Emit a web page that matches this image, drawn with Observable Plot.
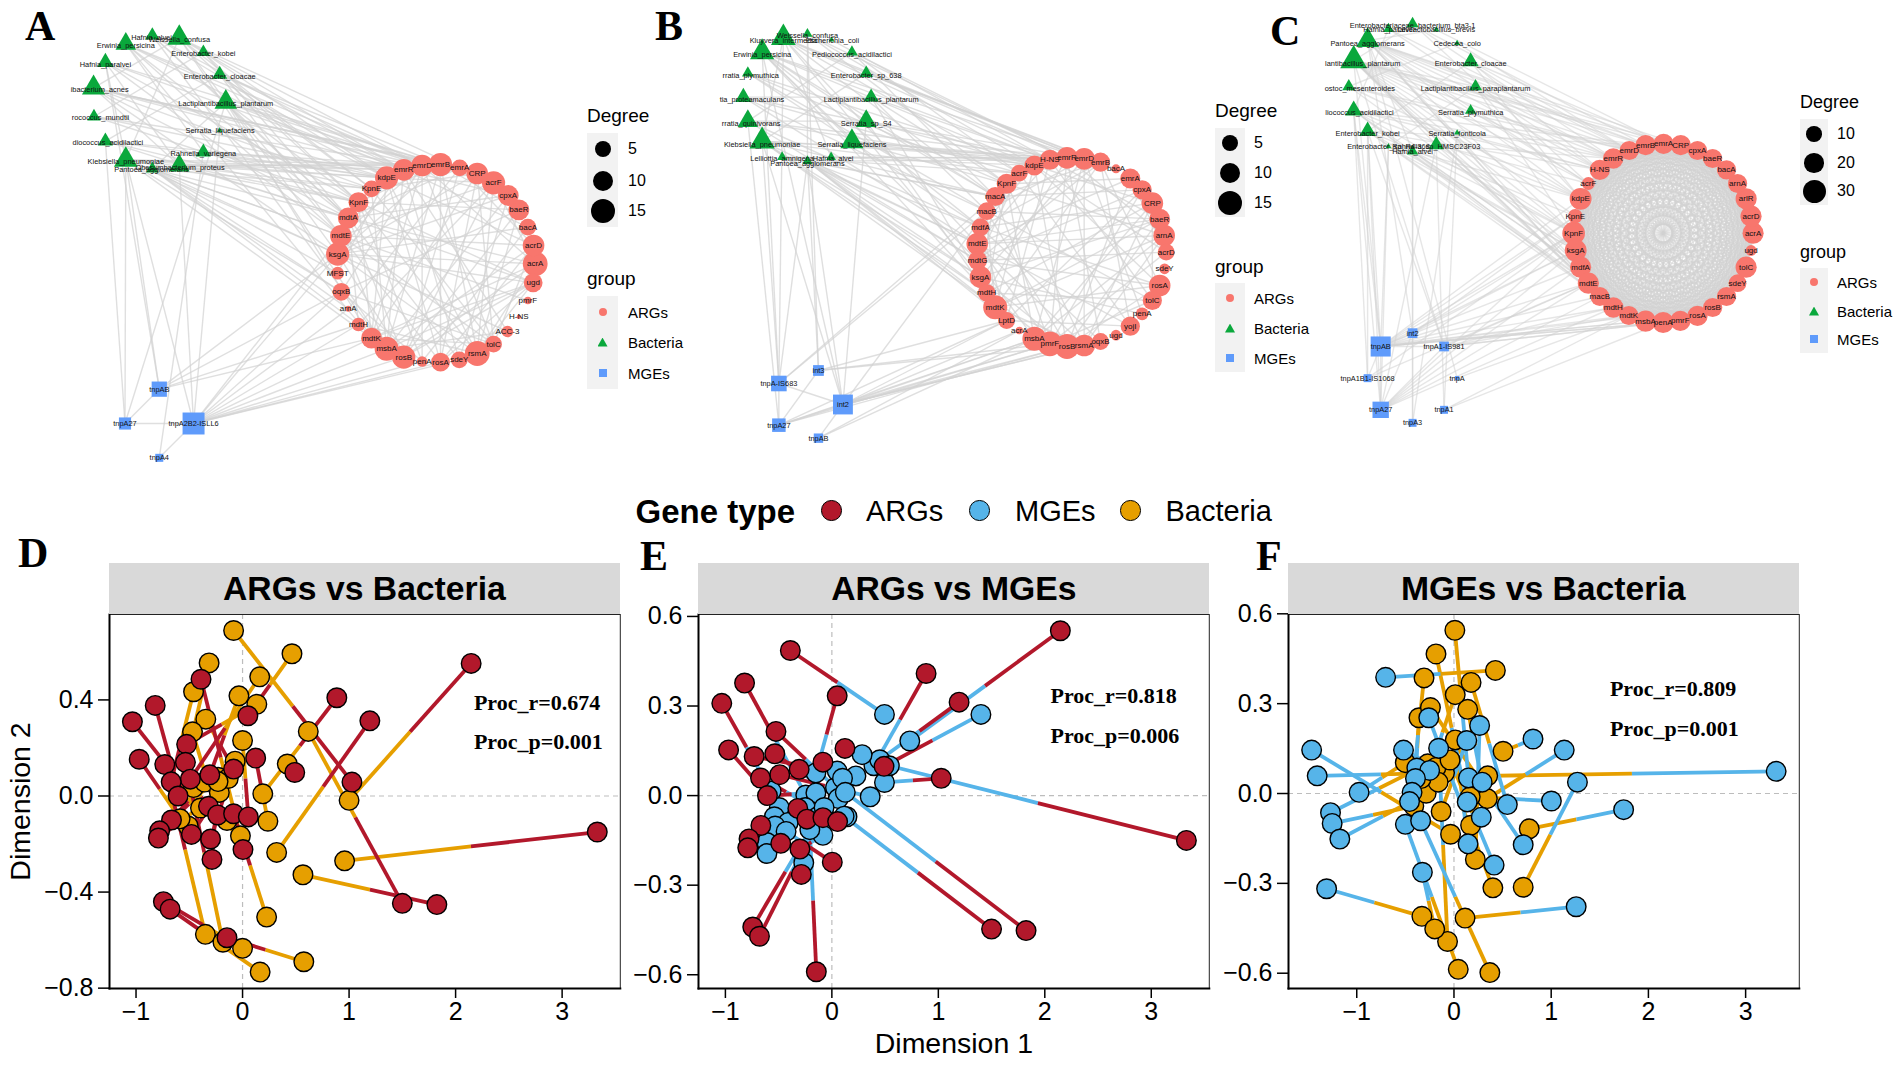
<!DOCTYPE html>
<html><head><meta charset="utf-8">
<script src="https://cdn.jsdelivr.net/npm/d3@7"></script>
<script src="https://cdn.jsdelivr.net/npm/@observablehq/plot@0.6"></script>
<style>
html,body{margin:0;padding:0;background:#fff}
#page{position:relative;width:1901px;height:1065px;overflow:hidden;font-family:"Liberation Sans",Arial,sans-serif;color:#000}
#page>*{position:absolute}
.letter{font-family:"Liberation Serif",serif;font-weight:bold;font-size:42px;line-height:1}
.strip{background:#d9d9d9;font-weight:bold;font-size:33.7px;display:flex;align-items:center;justify-content:center}
.t{white-space:nowrap;line-height:1;transform:translateY(-50%)}
svg{overflow:visible;background:transparent}
</style></head><body><div id="page"></div>
<script>
// ---------- Panels A-C: node rows [name, picture x, picture y, degree]; bacteria also carry label x, y
const ringA = [["acrA",1310,790,15],["acrD",1306,735,11],["bacA",1292,680,5],["baeR",1270,628,10],["cpxA",1244,585,10],["acrF",1208,547,13],["CRP",1168,519,11],["emrA",1125,502,5],["emrB",1078,492,13],["emrD",1033,495,11],["emrR",988,508,11],["kdpE",946,532,13],["KpnE",909,565,5],["KpnF",877,605,9],["mdtA",852,652,10],["mdtE",834,706,11],["ksgA",826,761,13],["MFST",826,818,3.7],["oqxB",835,874,6],["arnA",852,925,1.5],["mdtH",877,972,4],["mdtK",909,1013,10],["msbA",946,1045,14],["rosB",988,1070,13],["penA",1033,1083,3],["rosA",1078,1085,7.5],["sdeY",1124,1078,5],["rsmA",1168,1059,15],["tolC",1208,1031,5],["ACC-3",1242,993,3.3],["H-NS",1270,949,1],["pmrF",1292,900,2],["ugd",1305,847,7.5]];
const bactA = [["Hafnia_alvei",372,105,3,370,110],["Weissella_confusa",438,112,6,438,118],["Erwinia_persicina",307,130,4.5,307,136],["Enterobacter_kobei",497,155,2.8,497,160],["Hafnia_paralvei",257,185,3.5,257,191],["Enterobacter_cloacae",537,222,3.2,537,227],["ibacterium_acnes",228,262,5.5,243,268],["rococcus_mundtii",229,348,2.8,245,351],["Lactiplantibacillus_plantarum",552,305,5,552,310],["Serratia_liquefaciens",537,390,0.9,538,391],["diococcus_acidilactici",257,422,3.2,263,427],["Rahnella_variegena",497,455,3.2,497,458],["Klebsiella_pneumoniae",307,478,6,307,483],["Obesumbacterium_proteus",438,495,4.5,440,500],["Pantoea_agglomerans",372,505,2.6,370,508]];
const mgeA = [["tnpAB",389,1166,5.5],["tnpA27",305,1269,4],["tnpA2B2-ISLL6",473,1269,15],["tnpA4",389,1372,2.5]];
const ringLinksA = [[0,5,9,14,16,21,23,27],[1,7,11,15,22,25,28],[2,10,16,24],[3,8,13,18,23,27],[4,10,14,16,22,26],[5,11,15,20,23,27],[6,12,16,21,25,28],[7,14,19,23],[8,13,16,22,25,27],[9,15,18,21,24,28],[10,16,22,26,29],[11,17,21,25,27],[12,22,28],[13,21,24,27,32],[14,20,23,26,32],[15,22,25,28,31],[16,23,27,29,32],[18,24,28],[20,27],[21,28,32],[22,29,32],[23,32],[25,32],[27,32]];
const bactLinksA = [[0,10,11,14,22],[1,7,9,10,12,13,16,22],[2,9,10,11,14,15,21],[3,11,13,14],[4,8,10,13,15],[5,8,9,12,15],[6,6,7,8,9,10,12,14,16],[7,9,11,13],[8,8,9,10,13,14,15,21],[9,11],[10,10,11,13,14],[11,9,10,11,12],[12,8,10,11,12,13,15,16,18,21],[13,8,9,10,11,13,14],[14,12,14,15,16,17,18,19,20]];
const bactBactA = [[2,11],[1,12],[4,13],[6,13],[5,10],[3,7],[8,14],[0,8],[1,6],[4,12]];
const mgeRingA = [[0,16,18,20,21],[2,15,16,18,19,20,21,22,23,24,25,26]];
const mgeBactA = [[0,4,12],[1,10,12,8],[2,12,13,9],[3,11]];
const mgeMgeA = [[1,2],[2,3],[0,1]];

const ringB = [["arnA",1283,705,11],["acrD",1288,755,5],["sdeY",1284,805,3],["rosA",1272,855,11],["tolC",1254,900,8],["penA",1229,940,3.7],["yojI",1200,977,8],["ugd",1165,1004,3],["oqxB",1127,1023,5],["rsmA",1087,1035,11],["rosB",1045,1038,15],["pmrF",1003,1030,15],["msbA",965,1015,14],["acrA",928,990,2],["LptD",897,960,5],["mdtK",869,920,14],["mdtH",848,877,6],["ksgA",833,830,11],["mdtG",826,780,7.5],["mdtE",825,730,11],["mdfA",833,680,6],["macB",848,632,6],["macA",869,588,8],["KpnF",897,550,9],["acrF",928,518,5],["kdpE",965,495,9],["H-NS",1003,478,9],["emrR",1045,472,11],["emrD",1087,475,11],["emrB",1127,485,8],["bacA",1165,505,2.5],["emrA",1200,534,9],["cpxA",1229,568,8],["CRP",1254,608,11],["baeR",1272,656,10]];
const bactB = [["Kluyvera_intermedia",350,112,7,350,120],["Weissella_confusa",409,100,2,409,105],["Escherichia_coli",468,118,1,470,120],["Erwinia_persicina",298,155,6.5,298,162],["Pediococcus_acidilactici",518,155,2.4,518,162],["rratia_plymuthica",263,218,2.4,270,224],["Enterobacter_sp_638",553,218,2.8,553,224],["tia_proteamaculans",252,290,3.5,273,297],["Lactiplantibacillus_plantarum",565,290,3.2,565,297],["rratia_quinivorans",263,362,4.5,271,370],["Serratia_sp_S4",553,362,4.5,553,370],["Klebsiella_pneumoniae",298,422,7.5,298,432],["Serratia_liquefaciens",518,423,5.5,518,432],["Lelliottia_amnigena",347,470,2,347,474],["Hafnia_alvei",467,470,1.9,472,474],["Pantoea_agglomerans",409,482,2,409,488]];
const mgeB = [["tnpA-IS683",339,1149,6],["int3",436,1110,3.5],["int2",496,1212,12],["tnpA27",339,1274,4.5],["tnpAB",436,1313,3]];
const ringLinksB = [[0,9,12,15,19,23,27],[1,11,18,25,31],[3,10,15,18,20,25,29],[4,11,16,21,26,33],[5,17,28],[6,14,19,24,29],[8,20,27],[9,15,19,23,28,33],[10,17,21,25,31,34],[11,16,19,22,27,32],[12,18,23,28,33],[14,20,26,32],[15,21,25,29,34],[16,23,27,33],[17,22,28,34],[18,24,29,32],[19,26,31,34],[20,25,29,33],[21,28,34],[22,29,32],[23,31],[25,33],[26,34]];
const bactLinksB = [[0,26,27,28,24,22,19,17],[1,25,27,23],[2,26],[3,25,26,28,22,20,18,16],[4,27,24,22],[5,25,23,21],[6,29,30,28],[7,24,26,21,19],[8,26,23,21,17],[9,25,27,20,18],[10,28,25,22,16],[11,24,26,28,22,19,15,16,17],[12,26,29,25,23,20],[13,27,24,22],[14,25,28],[15,26,22,20,19,18,17,16,15,14]];
const bactBactB = [[0,11],[3,12],[1,15],[0,14],[3,10],[5,12],[7,8],[9,10],[4,9],[6,11]];
const mgeRingB = [[0,21,22],[1,10,11,14],[2,8,9,10,11,12,13,14,21],[3,10,11,12,14],[4,12,13]];
const mgeBactB = [[0,0,3,11,15],[1,1,15],[2,3,11,15,10],[3,9]];
const mgeMgeB = [[2,3],[2,4],[0,2],[3,0],[3,1]];

const ringC = [["acrA",1205,698,23],["acrD",1200,647,23],["arlR",1188,595,23],["arnA",1167,549,18],["bacA",1140,508,18],["baeR",1106,474,18],["cpxA",1069,450,18],["CRP",1028,434,21],["emrA",986,430,21],["emrB",942,434,21],["emrD",902,450,18],["emrR",863,474,21],["H-NS",830,508,21],["acrF",802,549,7.5],["kdpE",783,595,25],["KpnE",770,647,8.7],["KpnF",766,698,27],["ksgA",771,750,25],["mdfA",783,800,23],["mdtE",802,848,23],["macB",830,888,17],["mdtH",863,921,21],["mdtK",901,945,18],["msbA",942,962,23],["penA",985,966,23],["pmrF",1027,961,21],["rosA",1069,946,21],["rosB",1106,921,18],["rsmA",1140,888,18],["sdeY",1167,848,14],["tolC",1188,800,23],["ugd",1200,750,6]];
const bactC = [["Enterobacteriaceae_bacterium_bta3-1",372,70,4.5,372,74],["Hafnia_paralvei",313,85,3.7,314,88],["Levilactobacillus_brevis",430,88,1.1,430,88],["Pantoea_agglomerans",262,120,12,262,128],["Cedecea_colo",481,128,1.1,481,128],["lantibacillus_plantarum",228,180,20,250,190],["Enterobacter_cloacae",514,183,6.8,514,190],["ostoc_mesenteroides",216,258,5,243,263],["Lactiplantibacillus_paraplantarum",526,258,5,526,263],["liococcus_acidilactici",228,330,7.5,242,337],["Serratia_plymuthica",514,330,4,514,337],["Enterobacter_kobei",262,392,7.2,262,398],["Serratia_fonticola",481,397,1.1,481,398],["Enterobacter_sp_R4-368",313,438,1,313,439],["Rahnella_sp_HMSC23F03",430,433,6.3,430,439],["Hafnia_alvei",372,452,4,372,453]];
const mgeC = [["tnpAB",294,1038,27],["int2",372,998,6],["tnpA1-IS981",449,1038,6],["tnpA1B1-IS1068",262,1133,4.5],["tnpA",481,1133,1.4],["tnpA27",294,1228,16],["tnpA1",449,1228,4.5],["tnpA3",372,1267,4.5]];
const bactLinksC = [[0,9,11,13],[1,10,12],[2,8],[3,7,8,9,10,11,12,13,14,16,18,19,20],[4,10],[5,7,8,9,10,11,12,13,14,15,16,17,18,19,20,21],[6,8,10,12,14],[7,10,11,14,17],[8,9,11,14,16],[9,9,11,12,14,16,18,19,20],[10,10,13],[11,9,12,15,17,19,20],[12,12],[13,17],[14,11,13,16,19],[15,14,16,18,20]];
const bactBactC = [[3,10],[5,8],[0,5],[1,9],[4,7],[6,11],[2,3],[5,14],[3,15],[8,13]];
const mgeRingC = [[0,14,15,16,17,18,19,20,21,22,23,24,25,26,27],[1,15,16,17],[2,19,21,22,24,25],[3,16,19],[4,22],[5,16,17,18,19,20,21],[6,22,24]];
const mgeBactC = [[0,5,9,11,13],[1,15,3],[2,5,11],[3,9,11],[4,3],[5,9,11,13,14],[6,14,12],[7,15,12]];
const mgeMgeC = [[0,2],[0,5],[1,7],[0,1],[1,5],[5,2],[3,0]];
// every ARG in panel C is linked to every other ARG (the ring is a complete graph)
const ringLinksC = ringC.slice(0,-1).map((_,i)=>[i,...d3.range(i+1,ringC.length)]);

// ---------- Panels D-F: aligned ordinations
const argX = [2.146,.885,1.195,.05,-.39,-.82,-1.034,-.97,-.73,-.525,-.536,-.307,-.49,-.67,-.084,.123,.49,1.027,-.605,-.32,-.234,-.084,.054,-.667,-.778,-.79,-.48,-.3,.004,-.287,-.743,-.68,-.146,1.5,1.824,3.33];
const argY = [.552,.409,.313,.334,.486,.377,.309,.153,.131,.215,.14,.088,.07,.059,.112,.158,.098,.058,0,-.043,-.079,-.074,-.087,-.1,-.145,-.175,-.16,-.179,-.223,-.264,-.44,-.471,-.59,-.447,-.452,-.15];
const bactDX = [1,.19,.32,.464,-.02,-.51,-.395,-.586,-.349,.134,-.184,-.034,.161,-.46,-.345,.238,.42,-.084,-.314,-.46,-.47,.226,0,-.356,-.23,-.218,-.134,-.07,-.146,-.23,0,.165,.575,.617,.567,.958];
const bactDY = [-.018,.009,-.235,.592,-.166,-.125,-.05,-.095,-.576,.382,-.609,.417,.496,.434,.32,-.105,.133,.689,.554,.035,.267,-.504,.231,.058,.078,.015,.073,.145,-.102,.06,-.634,-.733,-.69,.269,-.328,-.27];
const mgeEX = [.732,.395,.45,-.15,.494,-.245,-.57,-.494,.226,.034,.06,.05,.36,-.19,.1,.284,1.4,.494,-.15,-.54,-.41,-.17,.142,-.533,-.61,-.61,-.25,-.084,-.43,-.264,-.13,-.073,-.207,.115,.126,.54];
const mgeEY = [.183,.1,.12,.076,.272,.002,.015,-.04,.066,.027,-.01,.082,-.004,-.034,.058,.137,.272,.044,.009,-.071,-.09,-.059,-.071,-.102,-.157,-.194,-.04,-.133,-.12,-.225,-.07,-.04,-.114,-.069,.011,.1];
const mgeFX = [3.314,1.27,1.745,1.134,.813,1.002,1.257,-.703,-1.464,-1.407,-.976,-1.27,-1.253,-1.174,-1.31,-.259,.264,.132,-.158,-.519,-.382,-.25,-.396,-.431,-.457,-.5,-.343,.149,.29,.136,.549,.281,.145,.712,.413,-.325];
const mgeFY = [.074,.038,-.054,.145,.182,-.025,-.378,.388,.145,.059,.004,-.064,-.1,-.152,-.318,.253,.227,.177,.151,.145,.085,.077,.05,.004,-.027,-.103,-.091,.052,.038,-.028,-.037,-.079,-.168,-.171,-.239,-.263];
const bactFX = [.347,.712,.774,.343,.505,.167,.114,.426,-.035,-.097,-.501,-.27,-.413,-.286,-.33,.4,.22,-.132,-.066,-.185,-.163,.013,-.36,-.308,-.338,.044,.369,.009,.141,-.185,.176,.171,.013,-.242,-.04,-.198];
const bactFY = [.059,-.313,-.118,-.017,.141,-.011,-.416,.411,-.136,.069,.103,.099,-.042,.001,-.41,-.315,-.22,-.06,-.494,.087,.038,.33,.253,.386,.05,-.587,-.598,.545,.281,.466,.371,-.106,.179,.287,.112,-.452];

const ticksX = [-1,0,1,2,3];
const ticksYD = [.4,0,-.4,-.8];
const ticksYEF = [.6,.3,0,-.3,-.6];
const degreeA = [5,10,15], degreeC = [10,20,30];
const groups = ["ARGs","Bacteria","MGEs"];
const geneTypes = ["ARGs","MGEs","Bacteria"];
const panelLetters = ["A","B","C","D","E","F"];

const colors = {ARGs:"#b2182b",MGEs:"#56b4e9",Bacteria:"#e69f00"};
const netColors = {ARGs:"#f8766d",Bacteria:"#0aa83c",MGEs:"#5f9bfb"};
const page = document.getElementById("page");
const font = '"Liberation Sans",Arial,sans-serif';

function add(el,left,top){el.style.left=left+"px";el.style.top=top+"px";page.appendChild(el);return el;}
function txt(s,left,cy,size,extra){const d=document.createElement("div");d.className="t";d.textContent=s;d.style.fontSize=size+"px";if(extra)Object.assign(d.style,extra);return add(d,left,cy);}

function network({left,width,ring,bact,mge,ringLinks,bactLinks,bactBact,mgeRing,mgeBact,mgeMge,rDomain,rRange,lineOpacity}){
  const links=[];
  const lk=(a,b)=>links.push({x1:a[1],y1:a[2],x2:b[1],y2:b[2]});
  ringLinks.forEach(([s,...t])=>t.forEach(j=>lk(ring[s],ring[j])));
  bactLinks.forEach(([s,...t])=>t.forEach(j=>lk(bact[s],ring[j])));
  bactBact.forEach(([a,b])=>lk(bact[a],bact[b]));
  mgeRing.forEach(([s,...t])=>t.forEach(j=>lk(mge[s],ring[j])));
  mgeBact.forEach(([s,...t])=>t.forEach(j=>lk(mge[s],bact[j])));
  mgeMge.forEach(([a,b])=>lk(mge[a],mge[b]));
  const plot=Plot.plot({
    width,height:490,margin:0,
    x:{domain:[0,1568],range:[0,width],axis:null},
    y:{domain:[0,1470],range:[0,490],axis:null},
    r:{type:"linear",domain:rDomain,range:rRange},
    style:{fontFamily:font,background:"transparent"},
    marks:[
      Plot.link(links,{x1:"x1",y1:"y1",x2:"x2",y2:"y2",stroke:"#d2d2d2",strokeWidth:1.4,strokeOpacity:lineOpacity}),
      Plot.dot(ring,{x:d=>d[1],y:d=>d[2],r:d=>d[3],fill:netColors.ARGs}),
      Plot.dot(bact,{x:d=>d[1],y:d=>d[2],r:d=>d[3],fill:netColors.Bacteria,symbol:"triangle"}),
      Plot.dot(mge,{x:d=>d[1],y:d=>d[2],r:d=>d[3],fill:netColors.MGEs,symbol:"square"}),
      Plot.text(ring,{x:d=>d[1],y:d=>d[2],text:d=>d[0],fontSize:8,fill:"#111"}),
      Plot.text(bact,{x:d=>d[4],y:d=>d[5],text:d=>d[0],fontSize:7.4,fill:"#111"}),
      Plot.text(mge,{x:d=>d[1],y:d=>d[2],text:d=>d[0],fontSize:7.4,fill:"#111"})
    ]
  });
  add(plot,left,0);
}

network({left:0,width:640,ring:ringA,bact:bactA,mge:mgeA,ringLinks:ringLinksA,bactLinks:bactLinksA,bactBact:bactBactA,mgeRing:mgeRingA,mgeBact:mgeBactA,mgeMge:mgeMgeA,rDomain:[1,5,15],rRange:[2.2,8.4,12.4],lineOpacity:.7});
network({left:640,width:640,ring:ringB,bact:bactB,mge:mgeB,ringLinks:ringLinksB,bactLinks:bactLinksB,bactBact:bactBactB,mgeRing:mgeRingB,mgeBact:mgeBactB,mgeMge:mgeMgeB,rDomain:[1,5,15],rRange:[2.2,8.4,12.4],lineOpacity:.7});
network({left:1260,width:641,ring:ringC,bact:bactC,mge:mgeC,ringLinks:ringLinksC,bactLinks:bactLinksC,bactBact:bactBactC,mgeRing:mgeRingC,mgeBact:mgeBactC,mgeMge:mgeMgeC,rDomain:[1,10,30],rRange:[2.2,8.1,11.9],lineOpacity:.55});

// ---------- network legends
function netLegend({x,w,degTitleY,degBg,degRows,degVals,degDia,groupTitleY,groupBg,groupRows,labelX,titleSize}){
  const cx=x+w/2;
  txt("Degree",x,degTitleY,titleSize);
  const bg1=document.createElement("div");Object.assign(bg1.style,{background:"#f2f2f2",width:w+"px",height:(degBg[1]-degBg[0])+"px"});add(bg1,x,degBg[0]);
  degVals.forEach((v,i)=>{
    const c=document.createElement("div");const di=degDia[i];
    Object.assign(c.style,{background:"#000",borderRadius:"50%",width:di+"px",height:di+"px"});
    add(c,cx-di/2,degRows[i]-di/2);
    txt(String(v),labelX,degRows[i],16);
  });
  txt("group",x,groupTitleY,titleSize);
  const bg2=document.createElement("div");Object.assign(bg2.style,{background:"#f2f2f2",width:w+"px",height:(groupBg[1]-groupBg[0])+"px"});add(bg2,x,groupBg[0]);
  groups.forEach((g,i)=>{
    const k=document.createElement("div");
    const base={background:netColors[g],width:"8px",height:"8px"};
    if(g==="ARGs")base.borderRadius="50%";
    if(g==="Bacteria"){base.clipPath="polygon(50% 0,100% 100%,0 100%)";base.width="10px";base.height="9px";}
    Object.assign(k.style,base);
    add(k,cx-parseFloat(base.width)/2,groupRows[i]-parseFloat(base.height)/2);
    txt(g,labelX,groupRows[i],15);
  });
}
netLegend({x:587,w:31,degTitleY:115,degBg:[133,227],degRows:[149,181,211],degVals:degreeA,degDia:[16,20,24],groupTitleY:278,groupBg:[296,389],groupRows:[312,342,373],labelX:628,titleSize:19});
netLegend({x:1215,w:30,degTitleY:110,degBg:[128,217],degRows:[143,173,203],degVals:degreeA,degDia:[16,20,24],groupTitleY:266,groupBg:[283,372],groupRows:[298,328,358],labelX:1254,titleSize:19});
netLegend({x:1800,w:28,degTitleY:102,degBg:[119,205],degRows:[134,163,191],degVals:degreeC,degDia:[15.5,19.5,23],groupTitleY:252,groupBg:[268,353],groupRows:[282,311,339],labelX:1837,titleSize:18});

// ---------- ordination panels
function procrustes({frameLeft,xDomain,yDomain,yTicks,title,sX,sY,tX,tY,sColor,tColor,statX,statY1,statY2,stats,yLabel,xLabel}){
  const mT=10,mL=109,W=510.8,H=374,mB=75,mR=10;
  const rows=sX.map((_,i)=>({sx:sX[i],sy:sY[i],tx:tX[i],ty:tY[i],mx:(sX[i]+tX[i])/2,my:(sY[i]+tY[i])/2}));
  const extra=[];
  if(yLabel)extra.push(Plot.text([yLabel],{frameAnchor:"left",textAnchor:"middle",rotate:-90,dx:-89,fontSize:28.5}));
  if(xLabel)extra.push(Plot.text([xLabel],{frameAnchor:"bottom",dy:65,fontSize:28.5}));
  const plot=Plot.plot({
    width:mL+W+mR,height:mT+H+mB,marginLeft:mL,marginRight:mR,marginTop:mT,marginBottom:mB,
    x:{domain:xDomain},y:{domain:yDomain},
    style:{fontFamily:font,background:"transparent",color:"#000"},
    marks:[
      Plot.ruleX([0],{stroke:"#bdbdbd",strokeDasharray:"5,4",strokeWidth:1.2}),
      Plot.ruleY([0],{stroke:"#bdbdbd",strokeDasharray:"5,4",strokeWidth:1.2}),
      Plot.frame({stroke:"#222",strokeWidth:1}),
      Plot.frame({anchor:"left",stroke:"#000",strokeWidth:2}),
      Plot.frame({anchor:"bottom",stroke:"#000",strokeWidth:2}),
      Plot.axisX({ticks:ticksX,tickFormat:d3.format("d"),tickSize:10,tickPadding:4,fontSize:25,label:null,strokeWidth:1.5}),
      Plot.axisY({ticks:yTicks,tickFormat:d3.format(".1f"),tickSize:11,tickPadding:5,fontSize:25,label:null,strokeWidth:1.5}),
      Plot.link(rows,{x1:"tx",y1:"ty",x2:"mx",y2:"my",stroke:tColor,strokeWidth:3.8}),
      Plot.link(rows,{x1:"sx",y1:"sy",x2:"mx",y2:"my",stroke:sColor,strokeWidth:3.8}),
      Plot.dot(rows,{x:"tx",y:"ty",r:9.8,fill:tColor,stroke:"#000",strokeWidth:1.4}),
      Plot.dot(rows,{x:"sx",y:"sy",r:9.8,fill:sColor,stroke:"#000",strokeWidth:1.4}),
      Plot.text(stats,{x:()=>statX,y:(d,i)=>i?statY2:statY1,text:d=>d,textAnchor:"start",fontSize:22,fontWeight:"bold",fontFamily:'"Liberation Serif",serif'}),
      ...extra
    ]
  });
  add(plot,frameLeft-mL,614-mT);
  const s=document.createElement("div");s.className="strip";s.textContent=title;
  Object.assign(s.style,{width:W+"px",height:"50.7px"});
  add(s,frameLeft,563.3);
}
procrustes({frameLeft:109,xDomain:[-1.249,3.546],yDomain:[-.8014,.7556],yTicks:ticksYD,title:"ARGs vs Bacteria",sX:argX,sY:argY,tX:bactDX,tY:bactDY,sColor:colors.ARGs,tColor:colors.Bacteria,statX:2.172,statY1:.389,statY2:.224,stats:["Proc_r=0.674","Proc_p=0.001"],yLabel:"Dimension 2"});
procrustes({frameLeft:698.4,xDomain:[-1.2526,3.545],yDomain:[-.646,.6065],yTicks:ticksYEF,title:"ARGs vs MGEs",sX:argX,sY:argY,tX:mgeEX,tY:mgeEY,sColor:colors.ARGs,tColor:colors.MGEs,statX:2.054,statY1:.334,statY2:.201,stats:["Proc_r=0.818","Proc_p=0.006"],xLabel:"Dimension 1"});
procrustes({frameLeft:1287.8,xDomain:[-1.702,3.552],yDomain:[-.651,.5977],yTicks:ticksYEF,title:"MGEs vs Bacteria",sX:mgeFX,sY:mgeFY,tX:bactFX,tY:bactFY,sColor:colors.MGEs,tColor:colors.Bacteria,statX:1.604,statY1:.348,statY2:.216,stats:["Proc_r=0.809","Proc_p=0.001"]});

// ---------- shared legend
txt("Gene type",635.5,511,33,{fontWeight:"bold"});
[[832,866],[979.6,1015],[1130.6,1165.5]].forEach(([c,l],i)=>{
  const g=geneTypes[i];
  const k=document.createElement("div");
  Object.assign(k.style,{background:colors[g],border:"1.4px solid #000",borderRadius:"50%",width:"18.5px",height:"18.5px"});
  add(k,c-10.6,511-10.6);
  txt(g,l,511,29);
});

// ---------- panel letters
[[25,5],[655,5],[1270,10],[18,532],[640,535],[1256,535]].forEach(([x,y],i)=>{
  const d=document.createElement("div");d.className="letter";d.textContent=panelLetters[i];add(d,x,y);
});
</script></body></html>
